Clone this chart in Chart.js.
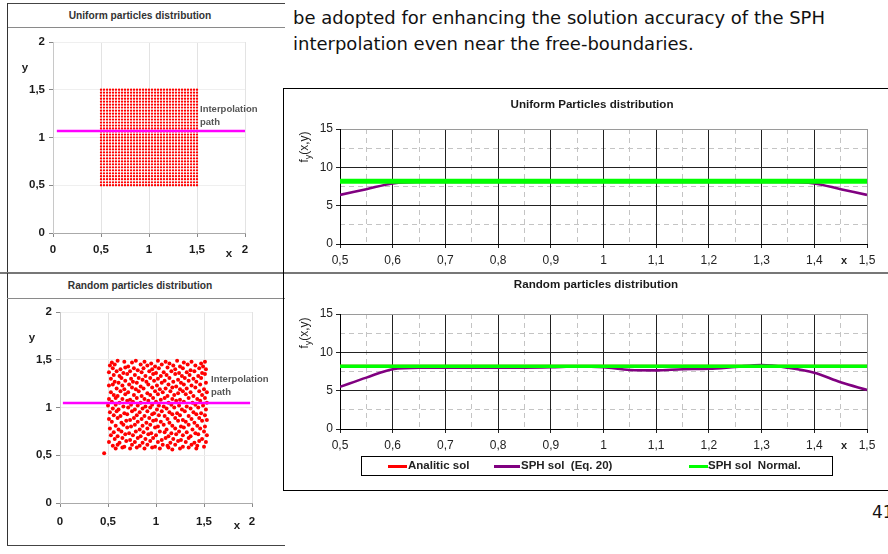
<!DOCTYPE html>
<html><head><meta charset="utf-8">
<script src="https://cdn.jsdelivr.net/npm/chart.js"></script>
<style>
html,body{margin:0;padding:0;background:#fff;width:888px;height:554px;overflow:hidden;position:relative;font-family:'Liberation Sans',Arial,sans-serif;}
.hl{position:absolute;height:0;border-top:1px solid #333;}
.vl{position:absolute;width:0;border-left:1px solid #333;}
canvas{position:absolute;}
.t{position:absolute;white-space:nowrap;}
.c{transform:translate(-50%,-50%);}
.sw{position:absolute;height:3px;}
</style></head><body>

<div class="t" style="left:293px;top:5px;font:18px 'DejaVu Sans',Verdana,sans-serif;line-height:26px;color:#111;">be adopted for enhancing the solution accuracy of the SPH<br>interpolation even near the free-boundaries.</div>
<div class="t" style="left:872px;top:502px;font:17px 'DejaVu Sans',Verdana,sans-serif;color:#111;">41</div>

<!-- left panels frames -->
<div class="hl" style="left:7px;top:3px;width:278px;border-color:#444;"></div>
<div class="hl" style="left:7px;top:27px;width:278px;border-color:#8a8a8a;"></div>
<div class="vl" style="left:7px;top:3px;height:269px;border-color:#333;"></div>
<div class="hl" style="left:0px;top:272px;width:888px;border-top:2px solid #777;"></div>
<div class="vl" style="left:7px;top:273px;height:272px;border-color:#333;"></div>
<div class="hl" style="left:7px;top:298px;width:278px;border-color:#8a8a8a;"></div>
<div class="hl" style="left:7px;top:545px;width:278px;border-color:#444;"></div>
<!-- right box -->
<div class="vl" style="left:283px;top:88px;height:402px;border-color:#000;"></div>
<div class="hl" style="left:283px;top:88px;width:605px;border-color:#000;"></div>
<div class="hl" style="left:283px;top:490px;width:605px;border-color:#000;"></div>

<div class="t c" style="left:140px;top:15px;font:bold 10.2px 'Liberation Sans',Arial;color:#333;">Uniform particles distribution</div>
<div class="t c" style="left:140px;top:285px;font:bold 10.2px 'Liberation Sans',Arial;color:#333;">Random particles distribution</div>

<canvas id="c1" width="276" height="243" style="left:8px;top:28px;width:276px;height:243px;"></canvas>
<canvas id="c2" width="276" height="245" style="left:8px;top:299px;width:276px;height:245px;"></canvas>
<canvas id="c3" width="604" height="182" style="left:284px;top:89px;width:604px;height:182px;"></canvas>
<canvas id="c4" width="604" height="180" style="left:284px;top:274px;width:604px;height:180px;"></canvas>

<div class="t c" style="left:25px;top:67px;font:bold 11.5px 'Liberation Sans',Arial;color:#222;">y</div>
<div class="t c" style="left:229px;top:253px;font:bold 11.5px 'Liberation Sans',Arial;color:#222;">x</div>
<div class="t c" style="left:32px;top:337px;font:bold 11.5px 'Liberation Sans',Arial;color:#222;">y</div>
<div class="t c" style="left:237px;top:525px;font:bold 11.5px 'Liberation Sans',Arial;color:#222;">x</div>
<div class="t" style="left:200px;top:102px;font:bold 9.5px 'Liberation Sans',Arial;line-height:13px;color:#555;">Interpolation<br>path</div>
<div class="t" style="left:211px;top:372px;font:bold 9.5px 'Liberation Sans',Arial;line-height:13px;color:#555;">Interpolation<br>path</div>

<div class="t c" style="left:592px;top:103px;font:bold 11.6px 'Liberation Sans',Arial;color:#1a1a1a;">Uniform Particles distribution</div>
<div class="t c" style="left:596px;top:283px;font:bold 11.6px 'Liberation Sans',Arial;color:#1a1a1a;">Random particles distribution</div>
<div class="t c" style="left:305px;top:147px;font:12px 'Liberation Sans',Arial;color:#222;transform:translate(-50%,-50%) rotate(-90deg);">f<sub style="font-size:9px">y</sub>(x,y)</div>
<div class="t c" style="left:305px;top:333px;font:12px 'Liberation Sans',Arial;color:#222;transform:translate(-50%,-50%) rotate(-90deg);">f<sub style="font-size:9px">y</sub>(x,y)</div>
<div class="t c" style="left:844px;top:260px;font:bold 11px 'Liberation Sans',Arial;color:#222;">x</div>
<div class="t c" style="left:844px;top:445px;font:bold 11px 'Liberation Sans',Arial;color:#222;">x</div>

<!-- legend -->
<div style="position:absolute;left:361px;top:456px;width:470px;height:18px;border:1px solid #000;"></div>
<div class="sw" style="left:388px;top:465px;width:19px;background:#ff0000;"></div>
<div class="t" style="left:408px;top:459px;font:bold 11.5px 'Liberation Sans',Arial;color:#222;white-space:pre;">Analitic sol</div>
<div class="sw" style="left:494px;top:465px;width:26px;background:#800080;"></div>
<div class="t" style="left:521px;top:459px;font:bold 11.5px 'Liberation Sans',Arial;color:#222;white-space:pre;">SPH sol  (Eq. 20)</div>
<div class="sw" style="left:689px;top:465px;width:19px;background:#00ff00;"></div>
<div class="t" style="left:708px;top:459px;font:bold 11.5px 'Liberation Sans',Arial;color:#222;white-space:pre;">SPH sol  Normal.</div>

<script>
// ---------- data ----------
const leftTicks = [0, 0.5, 1, 1.5, 2];
const leftTickLabels = ['0', '0,5', '1', '1,5', '2'];

const uniformGrid = [0.5,0.531,0.563,0.594,0.625,0.656,0.688,0.719,0.75,0.781,0.813,0.844,0.875,0.906,0.938,0.969,1,1.031,1.063,1.094,1.125,1.156,1.188,1.219,1.25,1.281,1.313,1.344,1.375,1.406,1.438,1.469,1.5];

const uniformPathX = [0.04, 2.0];
const uniformPathY = [1.068, 1.068];
const randomPathX = [0.03, 1.98];
const randomPathY = [1.047, 1.047];

const randomParticles = [
[0.54,1.47],[0.60,1.49],[0.67,1.48],[0.75,1.47],[0.79,1.49],[0.88,1.48],[0.95,1.46],[1.02,1.49],[1.10,1.48],[1.14,1.46],[1.22,1.49],[1.29,1.47],[1.37,1.48],[1.47,1.46],[1.51,1.48],
[0.52,1.44],[0.57,1.45],[0.71,1.43],[0.84,1.45],[0.91,1.44],[0.99,1.43],[1.06,1.45],[1.18,1.44],[1.25,1.43],[1.33,1.45],[1.41,1.44],[1.49,1.43],
[0.55,1.41],[0.63,1.40],[0.68,1.42],[0.77,1.41],[0.81,1.39],[0.87,1.41],[0.96,1.40],[1.03,1.41],[1.12,1.42],[1.20,1.40],[1.28,1.41],[1.36,1.39],[1.45,1.41],[1.52,1.40],
[0.51,1.37],[0.59,1.38],[0.66,1.36],[0.73,1.38],[0.85,1.37],[0.93,1.38],[1.00,1.36],[1.08,1.37],[1.16,1.38],[1.24,1.36],[1.32,1.37],[1.40,1.38],[1.48,1.36],
[0.56,1.34],[0.62,1.33],[0.70,1.35],[0.78,1.34],[0.89,1.33],[0.97,1.35],[1.05,1.33],[1.11,1.34],[1.20,1.35],[1.27,1.33],[1.35,1.34],[1.44,1.33],[1.51,1.35],
[0.53,1.30],[0.64,1.31],[0.74,1.30],[0.82,1.31],[0.86,1.29],[0.94,1.31],[1.02,1.30],[1.14,1.31],[1.23,1.29],[1.30,1.31],[1.39,1.30],[1.47,1.31],
[0.57,1.27],[0.61,1.26],[0.68,1.28],[0.76,1.27],[0.80,1.26],[0.90,1.27],[0.98,1.28],[1.06,1.26],[1.09,1.28],[1.18,1.27],[1.26,1.26],[1.34,1.28],[1.42,1.27],[1.52,1.26],
[0.51,1.23],[0.55,1.24],[0.65,1.23],[0.72,1.24],[0.84,1.22],[0.92,1.24],[1.01,1.23],[1.13,1.24],[1.21,1.22],[1.29,1.24],[1.37,1.23],[1.46,1.24],
[0.59,1.20],[0.67,1.19],[0.75,1.21],[0.79,1.19],[0.87,1.20],[0.96,1.21],[1.04,1.19],[1.10,1.20],[1.17,1.21],[1.25,1.19],[1.32,1.20],[1.41,1.21],[1.50,1.19],
[0.53,1.16],[0.63,1.17],[0.71,1.16],[0.82,1.17],[0.91,1.15],[0.99,1.17],[1.07,1.16],[1.15,1.17],[1.23,1.15],[1.28,1.17],[1.36,1.16],[1.45,1.17],[1.53,1.16],
[0.56,1.13],[0.60,1.12],[0.68,1.14],[0.77,1.13],[0.85,1.12],[0.94,1.13],[1.02,1.14],[1.12,1.12],[1.19,1.13],[1.31,1.14],[1.39,1.12],[1.48,1.13],
[0.51,1.09],[0.58,1.10],[0.65,1.09],[0.73,1.08],[0.80,1.10],[0.88,1.09],[0.97,1.10],[1.05,1.08],[1.09,1.10],[1.17,1.09],[1.25,1.08],[1.34,1.10],[1.43,1.09],[1.51,1.10],
[0.54,1.06],[0.62,1.05],[0.70,1.07],[0.76,1.06],[0.84,1.05],[0.92,1.07],[1.00,1.06],[1.13,1.05],[1.21,1.07],[1.29,1.06],[1.38,1.05],[1.46,1.07],[1.53,1.05],
[0.50,1.02],[0.58,1.03],[0.66,1.01],[0.74,1.03],[0.81,1.02],[0.89,1.01],[0.96,1.03],[1.03,1.02],[1.08,1.01],[1.16,1.03],[1.24,1.02],[1.32,1.01],[1.41,1.03],[1.49,1.02],
[0.55,0.99],[0.61,0.98],[0.71,1.00],[0.78,0.98],[0.86,0.99],[0.94,1.00],[1.01,0.98],[1.11,0.99],[1.19,1.00],[1.27,0.98],[1.36,0.99],[1.44,1.00],[1.52,0.98],
[0.52,0.95],[0.59,0.96],[0.67,0.94],[0.75,0.96],[0.83,0.95],[0.91,0.96],[0.98,0.94],[1.06,0.96],[1.14,0.95],[1.22,0.94],[1.30,0.96],[1.39,0.95],[1.47,0.94],
[0.56,0.92],[0.63,0.91],[0.70,0.93],[0.80,0.92],[0.88,0.91],[0.96,0.93],[1.03,0.92],[1.09,0.91],[1.17,0.93],[1.25,0.92],[1.34,0.91],[1.42,0.93],[1.51,0.92],
[0.51,0.88],[0.60,0.89],[0.73,0.87],[0.77,0.89],[0.85,0.88],[0.93,0.89],[1.00,0.87],[1.12,0.88],[1.20,0.89],[1.28,0.87],[1.37,0.88],[1.45,0.89],[1.53,0.87],
[0.54,0.85],[0.64,0.84],[0.69,0.86],[0.81,0.85],[0.90,0.84],[0.97,0.86],[1.05,0.85],[1.14,0.84],[1.23,0.86],[1.31,0.85],[1.40,0.84],[1.48,0.86],
[0.58,0.81],[0.66,0.82],[0.74,0.80],[0.78,0.82],[0.86,0.81],[0.94,0.82],[1.02,0.80],[1.08,0.82],[1.17,0.81],[1.26,0.80],[1.34,0.82],[1.43,0.81],[1.51,0.80],
[0.52,0.78],[0.61,0.77],[0.70,0.79],[0.83,0.77],[0.91,0.78],[0.99,0.79],[1.11,0.77],[1.20,0.78],[1.29,0.79],[1.38,0.77],[1.46,0.78],
[0.56,0.74],[0.64,0.75],[0.72,0.73],[0.79,0.75],[0.87,0.74],[0.95,0.73],[1.04,0.75],[1.09,0.74],[1.16,0.73],[1.24,0.75],[1.32,0.74],[1.41,0.73],[1.50,0.75],
[0.53,0.71],[0.60,0.70],[0.68,0.72],[0.76,0.71],[0.84,0.70],[0.92,0.72],[1.00,0.71],[1.13,0.70],[1.21,0.72],[1.28,0.71],[1.36,0.70],[1.44,0.72],[1.53,0.71],
[0.57,0.67],[0.65,0.68],[0.73,0.66],[0.81,0.68],[0.89,0.67],[0.97,0.68],[1.06,0.66],[1.10,0.68],[1.18,0.67],[1.26,0.66],[1.34,0.68],[1.48,0.67],
[0.51,0.64],[0.62,0.63],[0.69,0.65],[0.78,0.64],[0.86,0.63],[0.94,0.65],[1.02,0.64],[1.15,0.63],[1.23,0.65],[1.31,0.64],[1.40,0.63],[1.45,0.65],[1.52,0.64],
[0.55,0.60],[0.60,0.61],[0.67,0.59],[0.75,0.61],[0.83,0.60],[0.91,0.61],[0.99,0.59],[1.07,0.61],[1.12,0.60],[1.20,0.61],[1.28,0.59],[1.37,0.61],[1.43,0.60],[1.50,0.59],
[0.58,0.57],[0.65,0.58],[0.73,0.57],[0.80,0.58],[0.88,0.57],[0.96,0.58],[1.04,0.57],[1.13,0.58],[1.17,0.56],[1.25,0.57],[1.34,0.58],[1.42,0.57],
[0.46,0.52]
];

const rightXTicks = [0.5,0.6,0.7,0.8,0.9,1.0,1.1,1.2,1.3,1.4,1.5];
const rightXLabels = ['0,5','0,6','0,7','0,8','0,9','1','1,1','1,2','1,3','1,4','1,5'];
const rightXMinor = [0.55,0.65,0.75,0.85,0.95,1.05,1.15,1.25,1.35,1.45];
const rightYTicks = [0, 5, 10, 15];
const rightYLabels = ['0', '5', '10', '15'];
const rightYMinor = [2.5, 7.5, 12.5];

const pathX = [0.5,0.55,0.6,0.65,0.7,0.75,0.8,0.85,0.9,0.95,1.0,1.05,1.1,1.15,1.2,1.25,1.3,1.35,1.4,1.45,1.5];
const uniformAnalytic = [8.2,8.2,8.2,8.2,8.2,8.2,8.2,8.2,8.2,8.2,8.2,8.2,8.2,8.2,8.2,8.2,8.2,8.2,8.2,8.2,8.2];
const uniformSPH = [6.4,7.15,7.9,8.1,8.1,8.1,8.1,8.1,8.1,8.1,8.1,8.1,8.1,8.1,8.1,8.1,8.1,8.1,7.9,7.15,6.4];
const uniformNormal = [8.2,8.2,8.2,8.2,8.2,8.2,8.2,8.2,8.2,8.2,8.2,8.2,8.2,8.2,8.2,8.2,8.2,8.2,8.2,8.2,8.2];
const randomAnalytic = [8.2,8.2,8.2,8.2,8.2,8.2,8.2,8.2,8.2,8.2,8.2,8.2,8.2,8.2,8.2,8.2,8.2,8.2,8.2,8.2,8.2];
const randomSPH = [5.5,6.7,7.8,8.0,8.0,8.0,8.0,8.0,8.05,8.15,8.05,7.7,7.65,7.8,7.85,8.1,8.35,8.0,7.35,6.1,5.1];
const randomNormal = [8.2,8.2,8.2,8.2,8.2,8.2,8.2,8.2,8.2,8.2,8.2,8.2,8.2,8.2,8.2,8.2,8.2,8.2,8.2,8.2,8.2];

// ---------- charts ----------
const FONT = "'Liberation Sans', Arial, sans-serif";
const fixedTicks = vals => s => { s.ticks = vals.map(v => ({ value: v })); };

function leftChart(id, o) {
  const ds = [
    { data: o.pathX.map((x, i) => ({ x, y: o.pathY[i] })), showLine: true, borderColor: '#ff00ff', borderWidth: 2.5, pointRadius: 0 },
    { data: o.points, backgroundColor: '#ff0000', borderWidth: 0, pointRadius: o.r, pointHoverRadius: o.r }
  ];
  new Chart(document.getElementById(id), {
    type: 'scatter',
    data: { datasets: ds },
    options: {
      responsive: false, animation: false, events: [],
      layout: { padding: { top: o.padTop, right: o.padRight, left: 0, bottom: 0 } },
      plugins: { legend: { display: false }, tooltip: { enabled: false } },
      scales: {
        x: { type: 'linear', min: 0, max: 2, afterBuildTicks: fixedTicks(leftTicks),
          ticks: { autoSkip: false, maxRotation: 0, padding: o.xPad, color: '#1a1a1a', font: { family: FONT, size: 11.5, weight: 'bold' }, callback: (v, i) => leftTickLabels[i] },
          grid: { color: '#e3e3e3', tickColor: '#888', tickLength: 4 }, border: { color: '#aaa' },
          afterFit: s => { s.height = o.xHeight; } },
        y: { type: 'linear', min: 0, max: 2, afterBuildTicks: fixedTicks(leftTicks),
          ticks: { autoSkip: false, padding: 4, color: '#1a1a1a', font: { family: FONT, size: 11.5, weight: 'bold' }, callback: (v, i) => leftTickLabels[i] },
          grid: { color: '#efefef', tickColor: '#888', tickLength: 4 }, border: { color: '#c8c8c8' },
          afterFit: s => { s.width = o.yWidth; } }
      }
    }
  });
}

const uniformPoints = [];
uniformGrid.forEach(y => uniformGrid.forEach(x => uniformPoints.push({ x, y })));

leftChart('c1', { padTop: 14, padRight: 39, yWidth: 45, xHeight: 38, xPad: 6, points: uniformPoints, r: 1.15, pathX: uniformPathX, pathY: uniformPathY });
leftChart('c2', { padTop: 13, padRight: 32, yWidth: 52, xHeight: 41, xPad: 8, points: randomParticles.map(p => ({ x: p[0], y: p[1] })), r: 2.0, pathX: randomPathX, pathY: randomPathY });

function rightChart(id, o) {
  const mk = arr => pathX.map((x, i) => ({ x, y: arr[i] }));
  new Chart(document.getElementById(id), {
    type: 'line',
    data: { datasets: [
      { label: 'Analitic sol', data: mk(o.analytic), borderColor: '#ff0000', borderWidth: 3, pointRadius: 0, cubicInterpolationMode: 'monotone', order: 3 },
      { label: 'SPH sol  (Eq. 20)', data: mk(o.sph), borderColor: '#800080', borderWidth: 2.6, pointRadius: 0, cubicInterpolationMode: 'monotone', order: 2 },
      { label: 'SPH sol  Normal.', data: mk(o.normal), borderColor: '#00ff00', borderWidth: o.greenW, pointRadius: 0, cubicInterpolationMode: 'monotone', order: 1 }
    ] },
    options: {
      responsive: false, animation: false, events: [],
      layout: { padding: { top: o.padTop, right: 21, left: 0, bottom: 0 } },
      plugins: { legend: { display: false }, tooltip: { enabled: false } },
      scales: {
        xm: { type: 'linear', position: 'bottom', min: 0.5, max: 1.5, afterBuildTicks: fixedTicks(rightXMinor),
          ticks: { display: false }, grid: { color: '#c4c4c4', drawTicks: false, z: -2 }, border: { display: false, dash: [5, 4] },
          afterFit: s => { s.height = 0; } },
        ym: { type: 'linear', position: 'left', min: 0, max: 15, afterBuildTicks: fixedTicks(rightYMinor),
          ticks: { display: false }, grid: { color: '#c4c4c4', drawTicks: false, z: -2 }, border: { display: false, dash: [5, 4] },
          afterFit: s => { s.width = 0; } },
        x: { type: 'linear', position: 'bottom', min: 0.5, max: 1.5, afterBuildTicks: fixedTicks(rightXTicks),
          ticks: { autoSkip: false, maxRotation: 0, padding: 5, color: '#222', font: { family: FONT, size: 12 }, callback: (v, i) => rightXLabels[i] },
          grid: { color: c => (c.tick && c.tick.value >= 1.5 ? '#9a9a9a' : '#222'), tickColor: '#222', tickLength: 4 },
          border: { color: '#000' },
          afterFit: s => { s.height = o.xHeight; } },
        y: { type: 'linear', position: 'left', min: 0, max: 15, afterBuildTicks: fixedTicks(rightYTicks),
          ticks: { autoSkip: false, padding: 3, color: '#222', font: { family: FONT, size: 12 }, callback: (v, i) => rightYLabels[i] },
          grid: { color: c => (c.tick && c.tick.value >= 15 ? '#9a9a9a' : '#222'), tickColor: '#222', tickLength: 4 },
          border: { color: '#000' },
          afterFit: s => { s.width = 56; } }
      }
    }
  });
}

rightChart('c3', { padTop: 40, xHeight: 27, analytic: uniformAnalytic, sph: uniformSPH, normal: uniformNormal, greenW: 5 });
rightChart('c4', { padTop: 40, xHeight: 25, analytic: randomAnalytic, sph: randomSPH, normal: randomNormal, greenW: 3.5 });
</script>
</body></html>
